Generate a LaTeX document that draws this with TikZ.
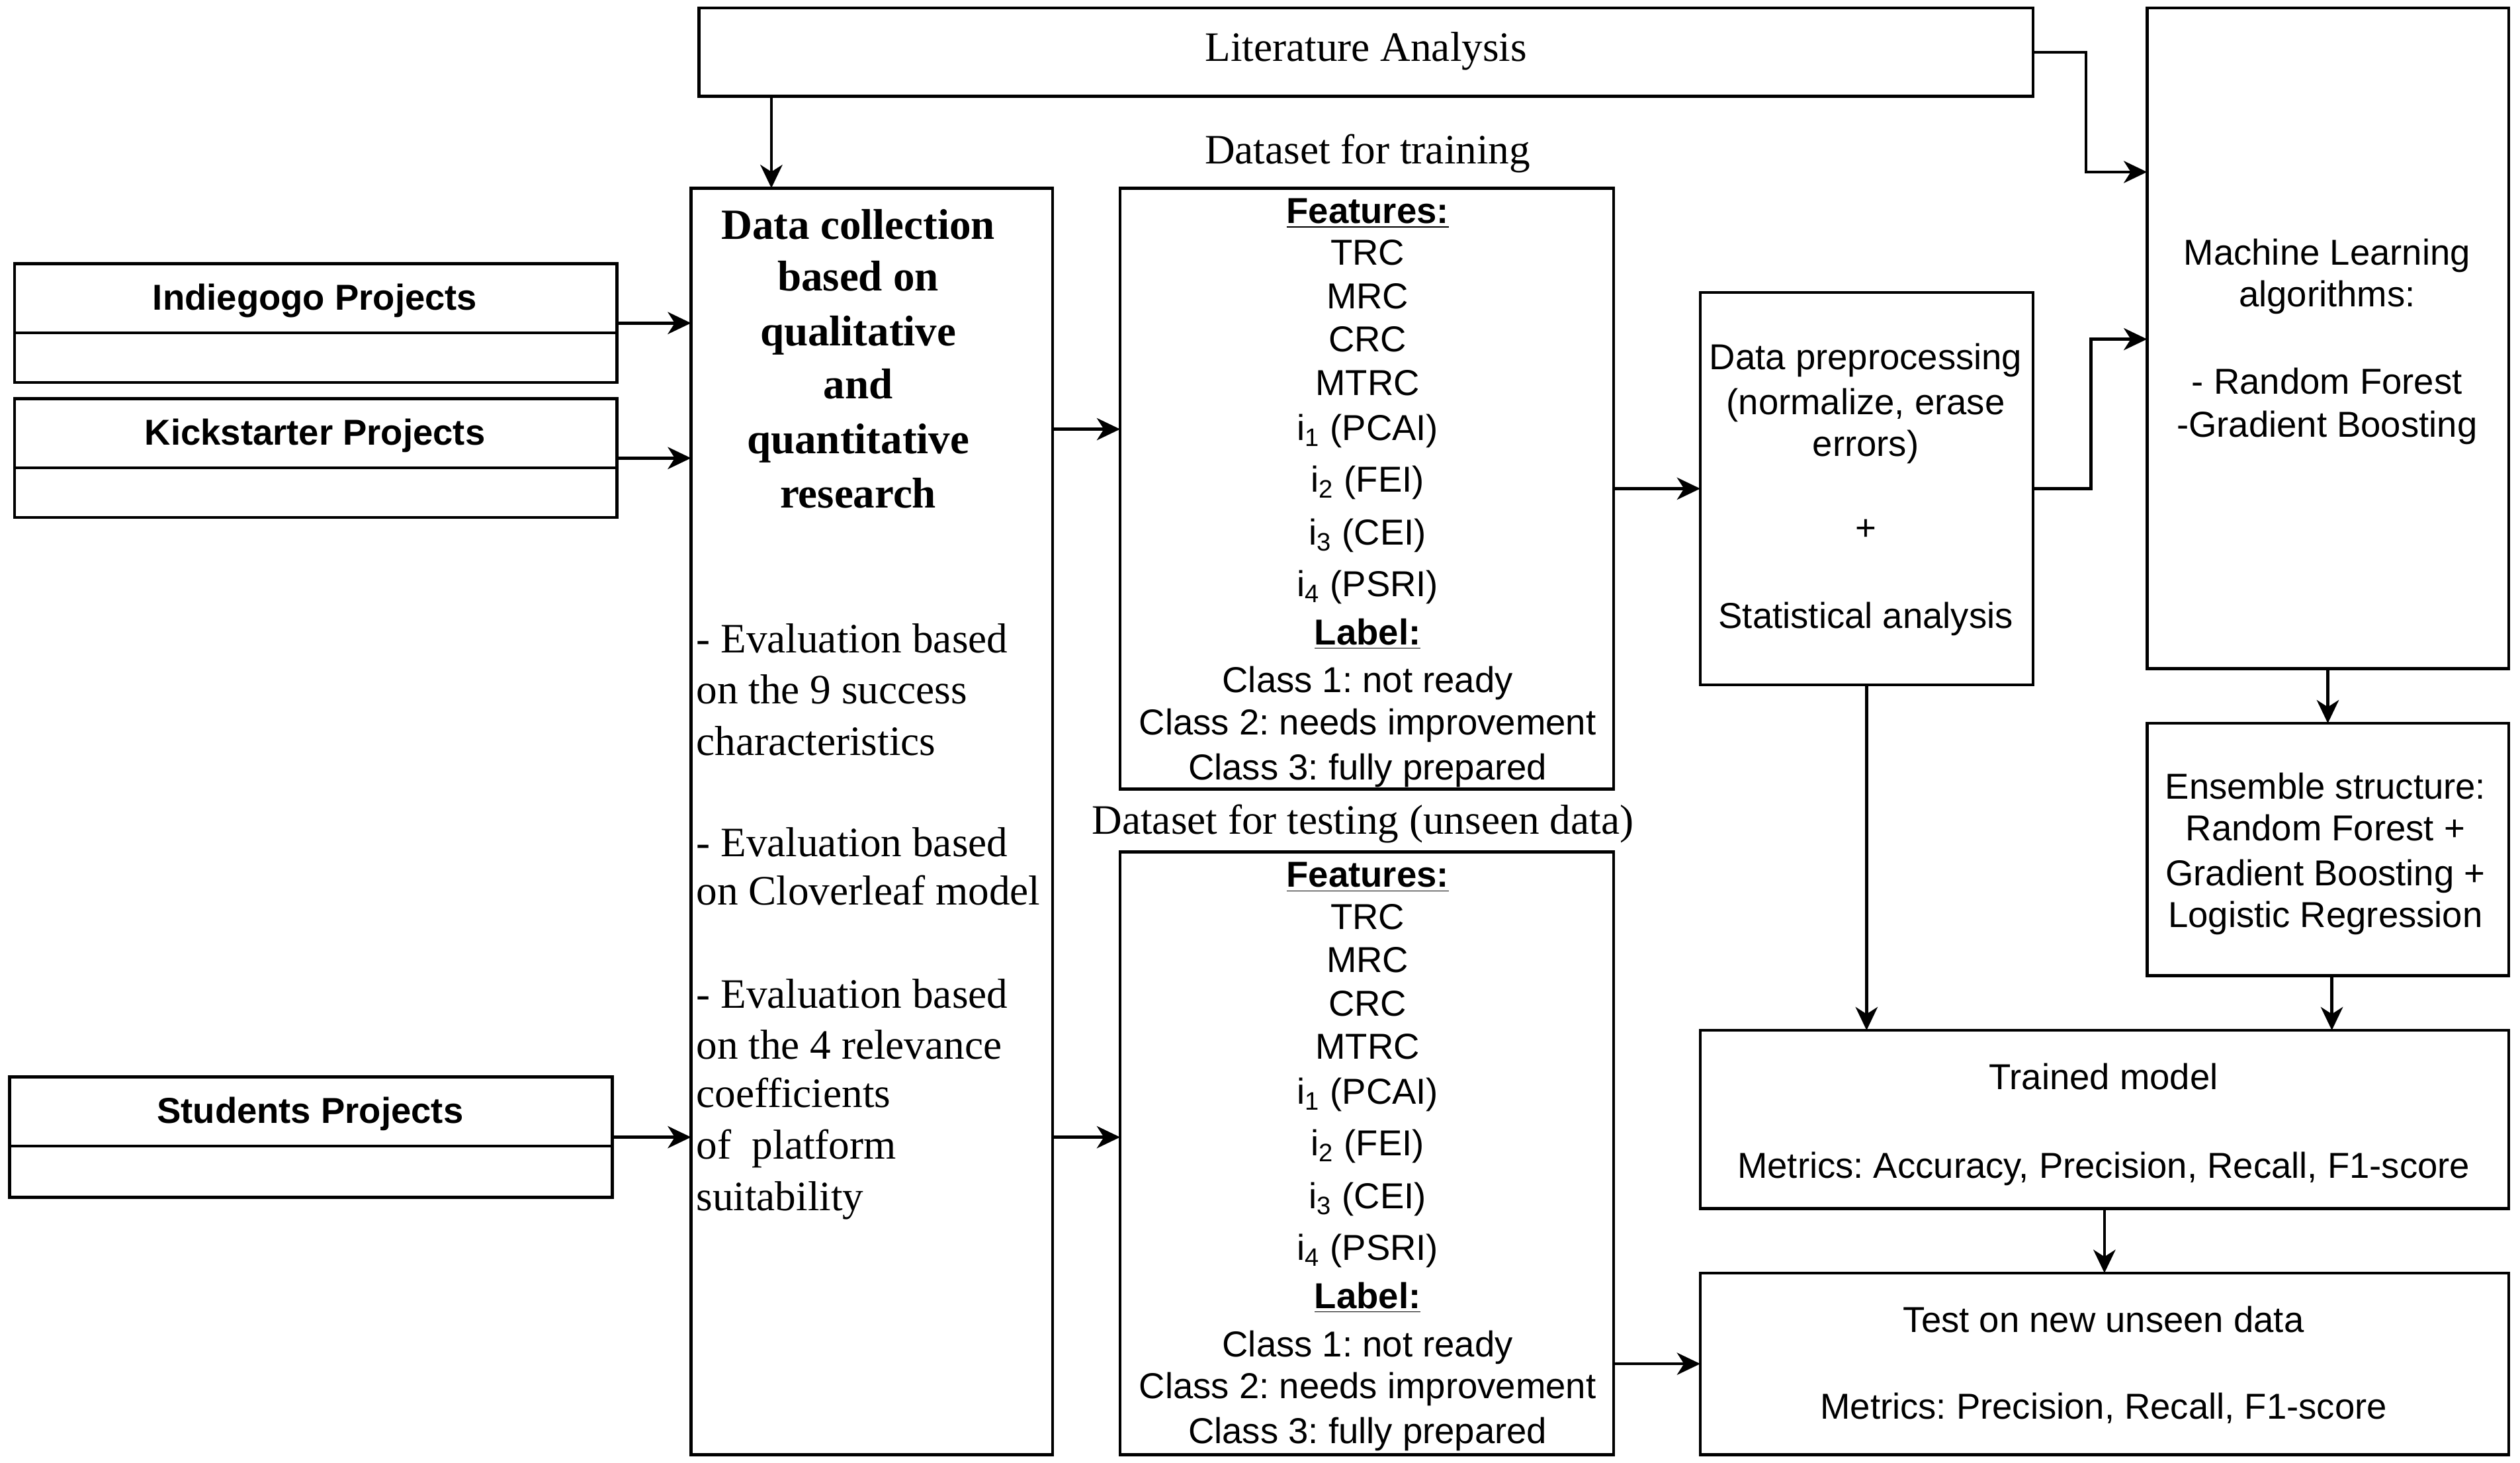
\documentclass[tikz,border=0pt]{standalone}
\usepackage{fontspec}
\setmainfont{Liberation Serif}
\setsansfont{Liberation Sans}
\usetikzlibrary{arrows.meta,fit}
\frenchspacing
\begin{document}
\begin{tikzpicture}[x=0.02429cm,y=-0.02429cm,
  box/.style={draw, line width=1.3pt, inner sep=0pt, outer sep=0pt},
  ln/.style={line width=1.3pt},
  arr/.style={line width=1.3pt, -{Stealth[length=10pt,width=9.5pt,inset=3pt]}},
  sf/.style={font=\fontsize{15.5}{18.6}\selectfont\sffamily, inner sep=0pt, anchor=base},
  sfb/.style={sf, font=\fontsize{15.5}{18.6}\selectfont\sffamily\bfseries},
  rm/.style={font=\fontsize{18}{22}\selectfont\rmfamily, inner sep=0pt, anchor=base},
  rml/.style={rm, anchor=base west},
  rmb/.style={font=\fontsize{18.5}{23}\selectfont\rmfamily\bfseries, inner sep=0pt, anchor=base},
]
\useasboundingbox (0,0) rectangle (1568.1,910.2);

% ---------- boxes ----------
\node[box, fit={(435,5)(1265,60)}] (lit) {};
\node[box, fit={(9,164)(384,238)}] (indie) {};
\draw[ln] (9,207) -- (384,207);
\node[box, fit={(9,248)(384,322)}] (kick) {};
\draw[ln] (9,291) -- (384,291);
\node[box, fit={(6,670)(381,745)}] (stu) {};
\draw[ln] (6,713) -- (381,713);
\node[box, fit={(430,117)(655,905)}] (dc) {};
\node[box, fit={(697,117)(1004,491)}] (tr) {};
\node[box, fit={(697,530)(1004,905)}] (te) {};
\node[box, fit={(1058,182)(1265,426)}] (pre) {};
\node[box, fit={(1336,5)(1561,416)}] (ml) {};
\node[box, fit={(1336,450)(1561,607)}] (ens) {};
\node[box, fit={(1058,641)(1561,752)}] (tm) {};
\node[box, fit={(1058,792)(1561,905)}] (test) {};

% ---------- texts ----------
\node[rm] (littxt) at (850,38) {Literature Analysis};
\node[sfb] (indietxt) at (196,193) {Indiegogo Projects};
\node[sfb] (kicktxt) at (196,277) {Kickstarter Projects};
\node[sfb] (stutxt) at (193,699) {Students Projects};

\node[rmb] (dc1) at (534,149) {Data collection};
\node[rmb] (dc2) at (534,181) {based on};
\node[rmb] (dc3) at (534,215) {qualitative};
\node[rmb] (dc4) at (534,248) {and};
\node[rmb] (dc5) at (534,282) {quantitative};
\node[rmb] (dc6) at (534,316) {research};

\node[rml] (ev1) at (433,406) {- Evaluation based};
\node[rml] (ev2) at (433,438) {on the 9 success};
\node[rml] (ev3) at (433,470) {characteristics};
\node[rml] (ev4) at (433,533) {- Evaluation based};
\node[rml] (ev5) at (433,563) {on Cloverleaf model};
\node[rml] (ev6) at (433,627) {- Evaluation based};
\node[rml] (ev7) at (433,659) {on the 4 relevance};
\node[rml] (ev8) at (433,689) {coefficients};
\node[rml] (ev9) at (433,721) {of\ \ platform};
\node[rml] (ev10) at (433,753) {suitability};

\node[rm] (trlab) at (851,102) {Dataset for training};
\node[rm] (telab) at (848,519) {Dataset for testing (unseen data)};

\foreach \dy/\p in {0/tr,413/te}{
  \node[sfb] (\p f) at (851,139+\dy) {\underline{Features:}};
  \node[sf] (\p 1) at (851,165+\dy) {TRC};
  \node[sf] (\p 2) at (851,192+\dy) {MRC};
  \node[sf] (\p 3) at (851,219+\dy) {CRC};
  \node[sf] (\p 4) at (851,246+\dy) {MTRC};
  \node[sf] (\p 5) at (851,274+\dy) {i\textsubscript{1} (PCAI)};
  \node[sf] (\p 6) at (851,306+\dy) {i\textsubscript{2} (FEI)};
  \node[sf] (\p 7) at (851,339+\dy) {i\textsubscript{3} (CEI)};
  \node[sf] (\p 8) at (851,371+\dy) {i\textsubscript{4} (PSRI)};
  \node[sfb] (\p l) at (851,401+\dy) {\underline{Label:}};
  \node[sf] (\p c1) at (851,431+\dy) {Class 1: not ready};
  \node[sf] (\p c2) at (851,457+\dy) {Class 2: needs improvement};
  \node[sf] (\p c3) at (851,485+\dy) {Class 3: fully prepared};
}

\node[sf] (pre1) at (1161,230) {Data preprocessing};
\node[sf] (pre2) at (1161,258) {(normalize, erase};
\node[sf] (pre3) at (1161,284) {errors)};
\node[sf] (pre4) at (1161,336) {+};
\node[sf] (pre5) at (1161,391) {Statistical analysis};

\node[sf] (ml1) at (1448,165) {Machine Learning};
\node[sf] (ml2) at (1448,191) {algorithms:};
\node[sf] (ml3) at (1448,245) {- Random Forest};
\node[sf] (ml4) at (1448,272) {-Gradient Boosting};

\node[sf] (ens1) at (1447,497) {Ensemble structure:};
\node[sf] (ens2) at (1447,523) {Random Forest +};
\node[sf] (ens3) at (1447,551) {Gradient Boosting +};
\node[sf] (ens4) at (1447,577) {Logistic Regression};

\node[sf] (tm1) at (1309,678) {Trained model};
\node[sf] (tm2) at (1309,733) {Metrics: Accuracy, Precision, Recall, F1-score};
\node[sf] (test1) at (1309,829) {Test on new unseen data};
\node[sf] (test2) at (1309,883) {Metrics: Precision, Recall, F1-score};

% ---------- connectors ----------
\coordinate (cLit) at (480,60);
\coordinate (cDT) at (655,267);
\coordinate (cLM1) at (1298,32.5);
\coordinate (cLM2) at (1298,107);
\coordinate (cPM1) at (1301,304);
\coordinate (cPM2) at (1301,211);

\draw[arr] (cLit) -- (cLit |- dc.north);
\draw[arr] (indie.east) -- (indie.east -| dc.west);
\draw[arr] (kick.east) -- (kick.east -| dc.west);
\draw[arr] (stu.east) -- (stu.east -| dc.west);
\draw[arr] (cDT) -- (cDT -| tr.west);
\draw[arr] (dc.east |- stu.east) -- (te.west |- stu.east);
\draw[arr] (tr.east) -- (tr.east -| pre.west);
\draw[arr] (te.east |- test.west) -- (test.west);
\draw[arr] (lit.east) -- (cLM1) -- (cLM2) -- (cLM2 -| ml.west);
\draw[arr] (pre.east) -- (cPM1) -- (cPM2) -- (cPM2 -| ml.west);
\draw[arr] (ml.south) -- (ens.north);
\draw[arr] ([xshift=2.5*0.02429cm]ens.south) -- ([xshift=2.5*0.02429cm]ens.south |- tm.north);
\draw[arr] (pre.south) -- (pre.south |- tm.north);
\draw[arr] (tm.south) -- (test.north);
\end{tikzpicture}
\end{document}
